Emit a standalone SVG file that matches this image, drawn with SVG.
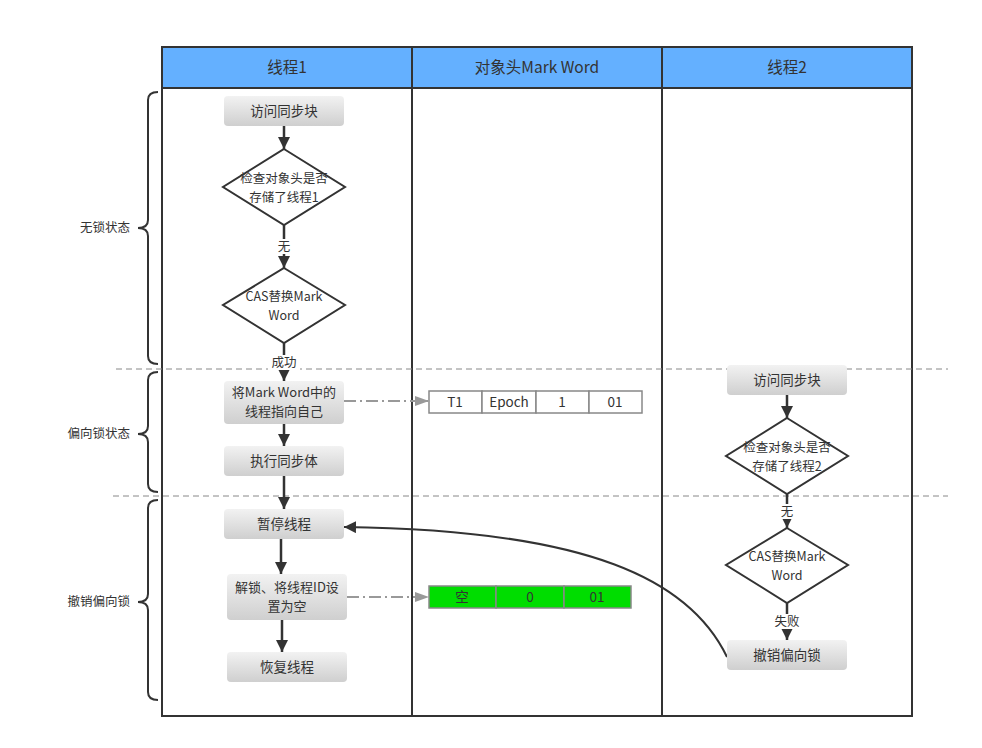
<svg xmlns="http://www.w3.org/2000/svg" width="982" height="748" viewBox="0 0 982 748">
<defs>
<linearGradient id="g" x1="0" y1="0" x2="0" y2="1">
<stop offset="0" stop-color="#f2f2f2"/>
<stop offset="1" stop-color="#cfcfcf"/>
</linearGradient>
<marker id="ahb" viewBox="0 0 12 12" refX="12" refY="6" markerWidth="12" markerHeight="12" markerUnits="userSpaceOnUse" orient="auto">
<path d="M0,0 L12,6 L0,12 z" fill="#333"/>
</marker>
<marker id="ag" viewBox="0 0 14 10" refX="14" refY="5" markerWidth="14" markerHeight="10" markerUnits="userSpaceOnUse" orient="auto">
<path d="M0,0 L14,5 L0,10 z" fill="#999"/>
</marker>
</defs>
<style>
text{font-family:"Noto Sans CJK SC","Microsoft YaHei",sans-serif;fill:#333;}
.hd{font-size:15.5px;text-anchor:middle;}
.t{font-size:13.5px;text-anchor:middle;}
.t2{font-size:13px;text-anchor:middle;}
.d{font-size:12.5px;text-anchor:middle;}
.s{font-size:12.5px;text-anchor:end;}
.lb{font-size:12.5px;text-anchor:middle;}
.box{fill:url(#g);stroke:none;}
.dia{fill:#fff;stroke:#333;stroke-width:2;}
.ln{stroke:#333;stroke-width:2.5;fill:none;}
.dash{stroke:#888;stroke-width:1;stroke-dasharray:6,4;fill:none;}
.brace{stroke:#333;stroke-width:2;fill:none;}
.cell{fill:#fff;stroke:#888;stroke-width:1.5;}
.gcell{fill:#00dd00;stroke:#888;stroke-width:1.5;}
.dd{stroke:#999;stroke-width:2;stroke-dasharray:12,4,2,4;fill:none;}
</style>

<g id="table">
<rect x="162" y="47" width="750" height="41" fill="#64b0ff"/>
<rect x="162" y="47" width="750" height="669" fill="none" stroke="#333" stroke-width="2"/>
<line x1="162" y1="88" x2="912" y2="88" stroke="#333" stroke-width="2"/>
<line x1="412" y1="47" x2="412" y2="716" stroke="#333" stroke-width="2"/>
<line x1="662" y1="47" x2="662" y2="716" stroke="#333" stroke-width="2"/>
<text class="hd" x="287" y="73">线程1</text>
<text class="hd" x="537" y="73">对象头Mark Word</text>
<text class="hd" x="787" y="73">线程2</text>
</g>

<g id="separators">
<line class="dash" x1="116" y1="369" x2="948" y2="369"/>
<line class="dash" x1="113" y1="496" x2="948" y2="496"/>
</g>

<g id="brace-nolock">
<path class="brace" d="M158,92 Q148,92 148,100 L148,220 Q148,228 138,228 Q148,228 148,236 L148,356 Q148,364 158,364"/>
<text class="s" x="130" y="232">无锁状态</text>
</g>
<g id="brace-biased">
<path class="brace" d="M158,372 Q148,372 148,380 L148,426 Q148,434 138,434 Q148,434 148,442 L148,484 Q148,492 158,492"/>
<text class="s" x="130" y="438">偏向锁状态</text>
</g>
<g id="brace-revoke">
<path class="brace" d="M158,500 Q148,500 148,508 L148,594 Q148,602 138,602 Q148,602 148,610 L148,692 Q148,700 158,700"/>
<text class="s" x="130" y="606">撤销偏向锁</text>
</g>

<g id="connectors">
<line class="ln" x1="284" y1="126" x2="284" y2="149" marker-end="url(#ahb)"/>
<line class="ln" x1="284" y1="225" x2="284" y2="268" marker-end="url(#ahb)"/>
<line class="ln" x1="284" y1="343" x2="284" y2="381" marker-end="url(#ahb)"/>
<line class="ln" x1="284" y1="424" x2="284" y2="446" marker-end="url(#ahb)"/>
<line class="ln" x1="284" y1="476" x2="284" y2="509" marker-end="url(#ahb)"/>
<line class="ln" x1="281" y1="539" x2="281" y2="574" marker-end="url(#ahb)"/>
<line class="ln" x1="282" y1="620" x2="282" y2="652" marker-end="url(#ahb)"/>
<line class="ln" x1="787" y1="395" x2="787" y2="418" marker-end="url(#ahb)"/>
<line class="ln" x1="787" y1="494" x2="787" y2="528" marker-end="url(#ahb)"/>
<line class="ln" x1="787" y1="603" x2="787" y2="640" marker-end="url(#ahb)"/>
<path d="M727,657 C690,580 590,530 344,527" stroke="#333" stroke-width="2" fill="none" marker-end="url(#ahb)"/>
<line class="dd" x1="344" y1="401" x2="429" y2="401" marker-end="url(#ag)"/>
<line class="dd" x1="347" y1="597" x2="429" y2="597" marker-end="url(#ag)"/>
<rect x="275" y="239" width="18" height="15" fill="#fff"/>
<text class="lb" x="284" y="251">无</text>
<rect x="268" y="355" width="32" height="15" fill="#fff"/>
<text class="lb" x="284" y="367">成功</text>
<rect x="778" y="504" width="18" height="15" fill="#fff"/>
<text class="lb" x="787" y="516">无</text>
<rect x="771" y="614" width="32" height="15" fill="#fff"/>
<text class="lb" x="787" y="626">失败</text>
</g>

<g id="t1-access">
<rect class="box" x="224" y="96" width="120" height="30" rx="4"/>
<text class="t" x="284" y="116">访问同步块</text>
</g>
<g id="t1-check">
<polygon class="dia" points="284,149 345,187 284,225 223,187"/>
<text class="d" x="284" y="183">检查对象头是否</text>
<text class="d" x="284" y="201.5">存储了线程1</text>
</g>
<g id="t1-cas">
<polygon class="dia" points="284,268 345,305 284,343 223,305"/>
<text class="d" x="284" y="301">CAS替换Mark</text>
<text class="d" x="284" y="319.5">Word</text>
</g>
<g id="t1-point">
<rect class="box" x="224" y="381" width="120" height="43" rx="4"/>
<text class="t2" x="284" y="397">将Mark Word中的</text>
<text class="t2" x="284" y="416">线程指向自己</text>
</g>
<g id="t1-exec">
<rect class="box" x="224" y="446" width="120" height="30" rx="4"/>
<text class="t" x="284" y="466">执行同步体</text>
</g>
<g id="t1-pause">
<rect class="box" x="224" y="509" width="120" height="30" rx="4"/>
<text class="t" x="284" y="529">暂停线程</text>
</g>
<g id="t1-unlock">
<rect class="box" x="227" y="574" width="120" height="46" rx="4"/>
<text class="t2" x="287" y="592">解锁、将线程ID设</text>
<text class="t2" x="287" y="611">置为空</text>
</g>
<g id="t1-resume">
<rect class="box" x="227" y="652" width="120" height="30" rx="4"/>
<text class="t" x="287" y="672">恢复线程</text>
</g>

<g id="mw-biased">
<rect class="cell" x="429" y="391" width="53" height="22"/>
<rect class="cell" x="482" y="391" width="54" height="22"/>
<rect class="cell" x="536" y="391" width="53" height="22"/>
<rect class="cell" x="589" y="391" width="53" height="22"/>
<text class="t" x="455" y="407">T1</text>
<text class="t" x="509" y="407">Epoch</text>
<text class="t" x="562" y="407">1</text>
<text class="t" x="615" y="407">01</text>
</g>
<g id="mw-empty">
<rect class="gcell" x="429" y="586" width="67" height="22"/>
<rect class="gcell" x="496" y="586" width="68" height="22"/>
<rect class="gcell" x="564" y="586" width="67" height="22"/>
<text class="t" x="462" y="602">空</text>
<text class="t" x="530" y="602">0</text>
<text class="t" x="597" y="602">01</text>
</g>

<g id="t2-access">
<rect class="box" x="727" y="365" width="120" height="30" rx="4"/>
<text class="t" x="787" y="385">访问同步块</text>
</g>
<g id="t2-check">
<polygon class="dia" points="787,418 848,456 787,494 726,456"/>
<text class="d" x="787" y="452">检查对象头是否</text>
<text class="d" x="787" y="470.5">存储了线程2</text>
</g>
<g id="t2-cas">
<polygon class="dia" points="787,528 848,565 787,603 726,565"/>
<text class="d" x="787" y="561">CAS替换Mark</text>
<text class="d" x="787" y="579.5">Word</text>
</g>
<g id="t2-revoke">
<rect class="box" x="727" y="640" width="120" height="30" rx="4"/>
<text class="t" x="787" y="660">撤销偏向锁</text>
</g>
</svg>
